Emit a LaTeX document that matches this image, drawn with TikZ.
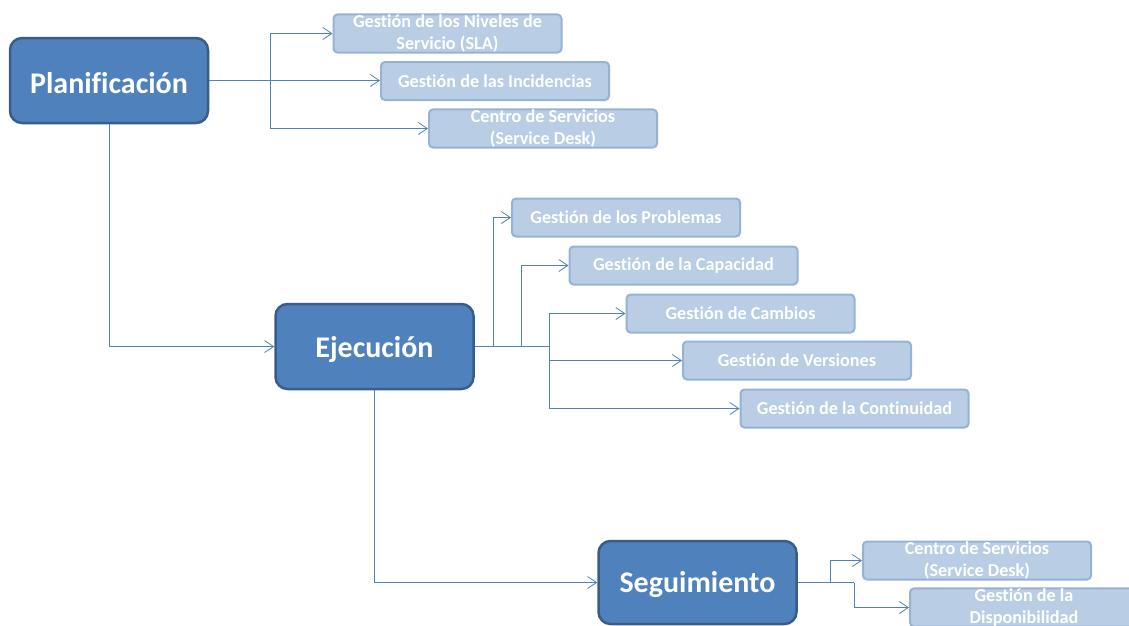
\documentclass[tikz,border=0pt]{standalone}
\usepackage{fontspec}
\setmainfont{Carlito}[Ligatures={NoCommon}]
\usetikzlibrary{arrows.meta}
\definecolor{mainfill}{HTML}{4F81BD}
\definecolor{mainborder}{HTML}{385D8A}
\definecolor{subfill}{HTML}{B9CDE5}
\definecolor{subborder}{HTML}{95B3D7}
\definecolor{linecol}{HTML}{4F81BD}
\newcommand{\mainlbl}[1]{\raisebox{-2.5pt}[\height][\depth]{#1}}
\tikzset{
  mainbox/.style={draw=mainborder, line width=2.5pt, fill=mainfill, rounded corners=12pt,
    minimum width=198pt, minimum height=85pt, inner sep=0pt, text=white,
    font=\fontsize{30}{35}\selectfont\bfseries},
  subbox/.style={draw=subborder, line width=2pt, fill=subfill, rounded corners=4pt,
    minimum width=228pt, minimum height=38pt, inner sep=0pt, text=white, align=center,
    font=\fontsize{18.2}{22.5}\selectfont\bfseries},
  conn/.style={draw=linecol, line width=1pt, -{Straight Barb[length=9pt,width=12pt,line width=0.8pt]}},
  plain/.style={draw=linecol, line width=1pt}
}
\begin{document}
\begin{tikzpicture}[x=1pt,y=-1pt]
\useasboundingbox[fill=white] (0,0) rectangle (1129,625);
% main boxes
\node[mainbox] (plan) at (109,80.5) {\mainlbl{Planificación}};
\node[mainbox] (eje) at (374.5,346.5) {\mainlbl{Ejecución}};
\node[mainbox, minimum height=83pt] (seg) at (697.5,582.5) {\mainlbl{Seguimiento}};
% sub boxes
\node[subbox] (sla) at (447.5,33.5) {Gestión de los Niveles de\\Servicio (SLA)};
\node[subbox] (inc) at (495,81) {Gestión de las Incidencias};
\node[subbox] (cp) at (543,128.5) {Centro de Servicios\\(Service Desk)};
\node[subbox] (prob) at (626,217.5) {Gestión de los Problemas};
\node[subbox] (cap) at (683.5,265.5) {Gestión de la Capacidad};
\node[subbox] (camb) at (740.5,313.5) {Gestión de Cambios};
\node[subbox] (vers) at (797,360.5) {Gestión de Versiones};
\node[subbox] (cont) at (854.5,408.5) {Gestión de la Continuidad};
\node[subbox] (cs) at (977,560.5) {Centro de Servicios\\(Service Desk)};
\node[subbox] (disp) at (1024,607.5) {Gestión de la\\Disponibilidad};
% coordinates
\coordinate (p1) at (270,80.5);
\coordinate (e1) at (493,346.5);
\coordinate (e2) at (521,346.5);
\coordinate (e3) at (549,346.5);
\coordinate (s1) at (830,582.5);
\coordinate (s2) at (854,582.5);
% connectors
\draw[conn] (plan.east) -- (plan.east -| inc.west);
\draw[conn] (p1) |- (sla.west);
\draw[conn] (p1) |- (cp.west);
\draw[conn] (plan.south) |- (eje.west);
\draw[plain] (eje.east) -- (e3);
\draw[conn] (e1) |- (prob.west);
\draw[conn] (e2) |- (cap.west);
\draw[conn] (e3) |- (camb.west);
\draw[conn] (e3) |- (vers.west);
\draw[conn] (e3) |- (cont.west);
\draw[conn] (eje.south) |- (seg.west);
\draw[plain] (seg.east) -- (s2);
\draw[conn] (s1) |- (cs.west);
\draw[conn] (s2) |- (disp.west);
\end{tikzpicture}
\end{document}
